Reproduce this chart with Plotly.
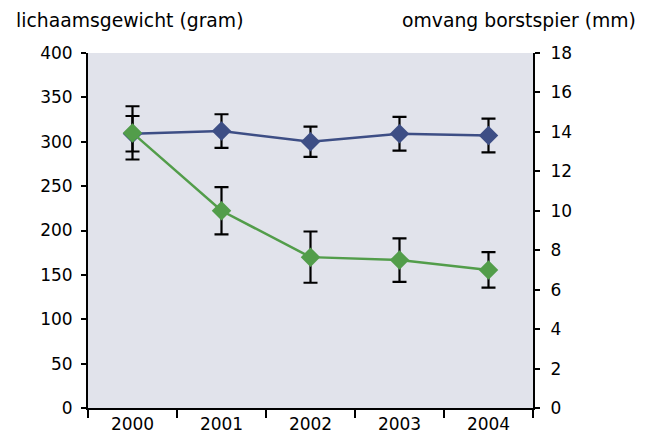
import plotly.graph_objects as go

years = ["2000", "2001", "2002", "2003", "2004"]
gewicht = [309, 312, 300, 309, 307]
gewicht_err = [20, 19, 17, 19, 19]
borstspier = [13.95, 10.0, 7.65, 7.5, 7.0]
borstspier_err = [1.35, 1.2, 1.3, 1.1, 0.9]

left_ticks = [0, 50, 100, 150, 200, 250, 300, 350, 400]
right_ticks = [0, 2, 4, 6, 8, 10, 12, 14, 16, 18]

FONT = "DejaVu Sans"
blue = "#3D4E85"
green = "#529D4A"

# page body has an 8px offset; margins compensate so the plot lands at
# x 88..533, y 53..408 on screen
L, T = 80, 45
PW, PH = 445, 355

fig = go.Figure()
fig.add_trace(go.Scatter(
    x=years, y=borstspier, yaxis="y2", mode="lines+markers",
    line=dict(color=green, width=2.5),
    marker=dict(symbol="diamond", size=15, color=green),
    error_y=dict(type="data", array=borstspier_err, color="black", thickness=2.2, width=7),
    showlegend=False,
))
fig.add_trace(go.Scatter(
    x=years, y=gewicht, mode="lines+markers",
    line=dict(color=blue, width=2.5),
    marker=dict(symbol="diamond", size=15, color=blue),
    error_y=dict(type="data", array=gewicht_err, color="black", thickness=2.2, width=7),
    showlegend=False,
))

fig.update_layout(
    width=651, height=432,
    margin=dict(l=L, r=651 - L - PW, t=T, b=432 - T - PH),
    paper_bgcolor="white",
    plot_bgcolor="#E1E3EB",
    font=dict(family=FONT, size=17, color="black"),
    xaxis=dict(
        type="category", range=[-0.5, 4.5], tickson="boundaries",
        ticks="outside", ticklen=8, tickwidth=2, tickcolor="black",
        showline=True, linecolor="black", linewidth=2,
        showgrid=False, zeroline=False, automargin=False,
        tickfont=dict(size=17),
    ),
    yaxis=dict(
        range=[0, 400], tickvals=left_ticks,
        ticks="outside", ticklen=5, tickwidth=2, tickcolor="black",
        showline=True, linecolor="black", linewidth=2,
        showgrid=False, zeroline=False, ticklabelstandoff=5, automargin=False,
        tickfont=dict(size=17),
    ),
    yaxis2=dict(
        range=[0, 18], tickvals=right_ticks, overlaying="y", side="right",
        ticks="outside", ticklen=5, tickwidth=2, tickcolor="black",
        showline=True, linecolor="black", linewidth=2,
        showgrid=False, zeroline=False, ticklabelstandoff=7, automargin=False,
        tickfont=dict(size=17),
    ),
    annotations=[
        dict(text="lichaamsgewicht (gram)", xref="paper", yref="paper",
             x=(6 - L) / PW, y=1, yshift=33, xanchor="left", yanchor="middle",
             showarrow=False, font=dict(size=18.8)),
        dict(text="omvang borstspier (mm)", xref="paper", yref="paper",
             x=1 + (630 - (L + PW)) / PW, y=1, yshift=33, xanchor="right", yanchor="middle",
             showarrow=False, font=dict(size=18.8)),
    ],
)

fig.write_html("out.html")
